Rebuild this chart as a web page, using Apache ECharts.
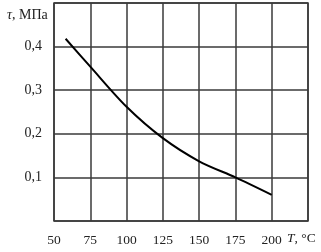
<!DOCTYPE html>
<html><head><meta charset="utf-8">
<script src="https://cdn.jsdelivr.net/npm/echarts@6/dist/echarts.min.js"></script>
<style>html,body{margin:0;padding:0;background:#fff}#c{width:321px;height:252px}</style>
</head><body><div id="c"></div>
<script>
const temps = [58, 75, 100, 125, 150, 175, 200];
const tau = [0.418, 0.354, 0.262, 0.19, 0.137, 0.1, 0.06];
const xTicks = [50, 75, 100, 125, 150, 175, 200];
const yTicks = [0.1, 0.2, 0.3, 0.4];
const font = '"Liberation Serif", "Times New Roman", serif';
const chart = echarts.init(document.getElementById('c'), null, {renderer: 'canvas'});
const gridColor = '#3a3a3a';
chart.setOption({
  animation: false,
  backgroundColor: '#fff',
  grid: {left: 54, right: 13, top: 3, bottom: 31, show: true, borderColor: gridColor, borderWidth: 1.5, backgroundColor: 'transparent'},
  xAxis: {
    type: 'value', min: 50, max: 225, interval: 25,
    axisLine: {show: false}, axisTick: {show: false},
    splitLine: {show: true, lineStyle: {color: gridColor, width: 1.5}},
    axisLabel: {
      color: '#222', fontFamily: font, fontSize: 13.5, margin: 12,
      formatter: v => xTicks.includes(v) ? String(v) : ''
    }
  },
  yAxis: {
    type: 'value', min: 0, max: 0.5, interval: 0.1,
    axisLine: {show: false}, axisTick: {show: false},
    splitLine: {show: true, lineStyle: {color: gridColor, width: 1.5}},
    axisLabel: {
      color: '#222', fontFamily: font, fontSize: 14, margin: 12,
      formatter: v => {
        const r = Math.round(v * 10) / 10;
        return yTicks.includes(r) ? r.toFixed(1).replace('.', ',') : '';
      }
    }
  },
  graphic: [
    {type: 'text', left: 7, top: 8, style: {
      text: '{i|τ}, МПа', fill: '#222', font: '14px ' + font,
      rich: {i: {fontStyle: 'italic', fontFamily: font, fontSize: 14, fill: '#222'}}
    }},
    {type: 'text', left: 287, top: 231, style: {
      text: '{i|T}, °C', fill: '#222', font: '13.5px ' + font,
      rich: {i: {fontStyle: 'italic', fontFamily: font, fontSize: 13.5, fill: '#222'}}
    }}
  ],
  series: [{
    type: 'line', smooth: 0.3, symbol: 'none',
    lineStyle: {color: '#000', width: 2},
    data: temps.map((t, i) => [t, tau[i]])
  }]
});
</script></body></html>
